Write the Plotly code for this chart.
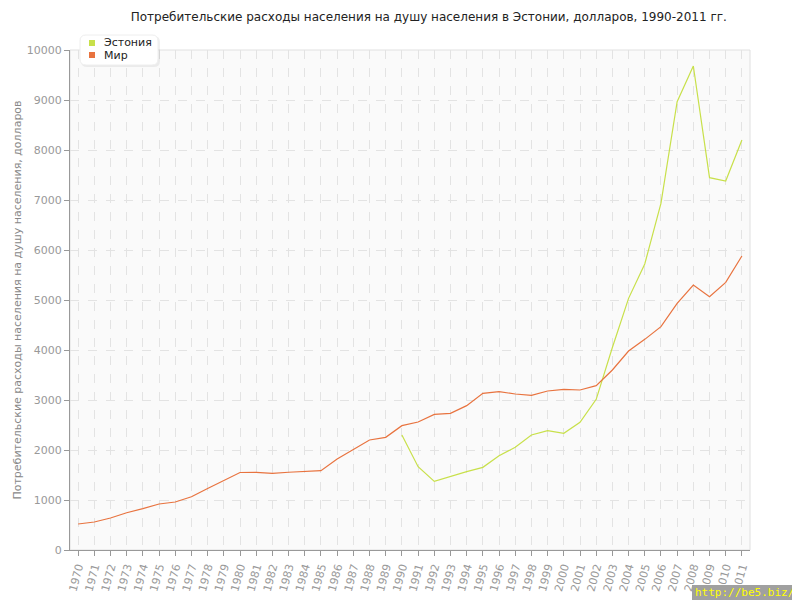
import plotly.graph_objects as go

years = list(range(1970, 2012))
world = [520, 560, 640, 745, 826, 920, 960, 1066, 1230, 1390,
         1550, 1553, 1533, 1555, 1565, 1586, 1820, 2010, 2200, 2253,
         2487, 2560, 2713, 2733, 2887, 3133, 3167, 3120, 3093, 3180,
         3213, 3200, 3287, 3600, 3980, 4213, 4467, 4933, 5300, 5067,
         5353, 5880]
est_years = list(range(1990, 2012))
estonia = [2300, 1667, 1373, 1473, 1567, 1653, 1887, 2053, 2300, 2387,
           2333, 2553, 3013, 4050, 5033, 5720, 6933, 8967, 9680, 7447,
           7380, 8200]
series_names = ["Эстония", "Мир"]

title = "Потребительские расходы населения на душу населения в Эстонии, долларов, 1990-2011 гг."
ytitle = "Потребительские расходы населения на душу населения, долларов"
EST_C = "#c8e04a"
WORLD_C = "#e8733f"
colors = [EST_C, WORLD_C]

fig = go.Figure()
fig.add_trace(go.Scatter(x=est_years, y=estonia, mode="lines", name=series_names[0],
                         line=dict(color=EST_C, width=1.2), showlegend=False))
fig.add_trace(go.Scatter(x=years, y=world, mode="lines", name=series_names[1],
                         line=dict(color=WORLD_C, width=1.2), showlegend=False))

# page body has an 8px margin: compensate so the plot area sits at 70..750 x 50..550
L, R, T, B = 62, 58, 42, 58
PW, PH = 800 - L - R, 600 - T - B


def px(fx):
    return (fx - L) / PW


def py(fy):
    return (600 - B - fy) / PH


fig.update_layout(
    width=800, height=600,
    margin=dict(l=L, r=R, t=T, b=B),
    paper_bgcolor="white", plot_bgcolor="#fafafa",
    font=dict(family="DejaVu Sans", size=11, color="#999999"),
    title=dict(text=title, x=0.526, xanchor="center", y=0.985, yanchor="middle",
               font=dict(size=12, color="#222222")),
    showlegend=False,
    xaxis=dict(range=[1969.5, 2011.5], tickmode="array", tickvals=years,
               ticktext=[str(y) for y in years], tickangle=-75,
               showgrid=True, gridcolor="#e3e3e3", griddash="dash",
               showline=True, linecolor="#999999", linewidth=1, mirror=False,
               ticks="outside", ticklen=5, tickcolor="#999999", automargin=False,
               tickfont=dict(size=11, color="#999999"), zeroline=False),
    yaxis=dict(range=[0, 10000], tickmode="linear", dtick=1000, tick0=0,
               tickformat="d",
               showgrid=True, gridcolor="#e3e3e3", griddash="dash",
               showline=True, linecolor="#999999", linewidth=1,
               ticks="outside", ticklen=5, tickcolor="#999999", automargin=False,
               tickfont=dict(size=11, color="#999999"), zeroline=False,
               title=dict(text=ytitle, font=dict(size=11, color="#888888"), standoff=2)),
)
# light frame on top/right
fig.add_shape(type="rect", xref="paper", yref="paper", x0=0, y0=0, x1=1, y1=1,
              line=dict(color="#e0e0e0", width=1), layer="below")


def rounded(x0, y0, x1, y1, r):
    # pixel (figure) coords -> paper path with rounded corners
    pts = (f"M {px(x0 + r)},{py(y0)} L {px(x1 - r)},{py(y0)} "
           f"Q {px(x1)},{py(y0)} {px(x1)},{py(y0 + r)} L {px(x1)},{py(y1 - r)} "
           f"Q {px(x1)},{py(y1)} {px(x1 - r)},{py(y1)} L {px(x0 + r)},{py(y1)} "
           f"Q {px(x0)},{py(y1)} {px(x0)},{py(y1 - r)} L {px(x0)},{py(y0 + r)} "
           f"Q {px(x0)},{py(y0)} {px(x0 + r)},{py(y0)} Z")
    return pts


# legend box (screen 80..158 x 35..65) with soft shadow
fig.add_shape(type="path", xref="paper", yref="paper", path=rounded(73, 28, 152, 59, 6),
              fillcolor="rgba(0,0,0,0.06)", line=dict(width=0))
fig.add_shape(type="path", xref="paper", yref="paper", path=rounded(72, 27, 150, 57, 6),
              fillcolor="white", line=dict(color="#eeeeee", width=1))
for i, (nm, c) in enumerate(zip(series_names, colors)):
    cy = 35 + 12 * i
    fig.add_shape(type="rect", xref="paper", yref="paper",
                  x0=px(81), x1=px(87), y0=py(cy - 3), y1=py(cy + 3),
                  fillcolor=c, line=dict(width=0))
    fig.add_annotation(text=nm, xref="paper", yref="paper", x=px(94), y=py(cy),
                       xanchor="left", yanchor="middle", showarrow=False,
                       font=dict(size=11, color="#222222"))

# watermark in the bottom-right corner
fig.add_shape(type="rect", xref="paper", yref="paper",
              x0=px(684), x1=px(800), y0=py(577), y1=py(600),
              fillcolor="#a0a0a0", line=dict(width=0))
fig.add_annotation(text="http://be5.biz/", xref="paper", yref="paper",
                   x=px(685), y=py(584), xanchor="left", yanchor="middle",
                   showarrow=False,
                   font=dict(size=11, color="#ffff00", family="DejaVu Sans Mono"))

fig.write_html("out.html")
